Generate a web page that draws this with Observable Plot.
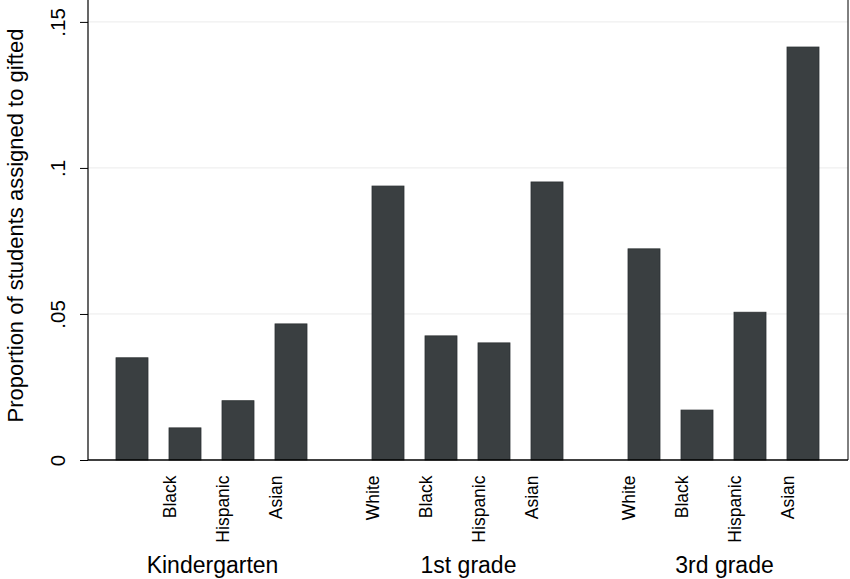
<!DOCTYPE html>
<html>
<head>
<meta charset="utf-8">
<script src="https://cdn.jsdelivr.net/npm/d3@7"></script>
<script src="https://cdn.jsdelivr.net/npm/@observablehq/plot@0.6"></script>
<style>
  html, body { margin: 0; padding: 0; background: #fff; }
  #chart svg { display: block; font-family: "Liberation Sans", Arial, sans-serif; }
</style>
</head>
<body>
<div id="chart"></div>
<script>
const grades = ["Kindergarten", "1st grade", "3rd grade"];
const races = ["White", "Black", "Hispanic", "Asian"];
const kindergarten = [0.035, 0.011, 0.0203, 0.0466];
const grade1 = [0.0938, 0.0425, 0.0401, 0.0952];
const grade3 = [0.0723, 0.0171, 0.0506, 0.1414];
const yTicks = [0, 0.05, 0.1, 0.15];
const yTitle = "Proportion of students assigned to gifted";
const hiddenLabels = ["Kindergarten|White"];

const series = [kindergarten, grade1, grade3];
const data = grades.flatMap((g, gi) => races.map((r, ri) => ({grade: g, race: r, value: series[gi][ri]})));
const labelData = data.filter(d => !hiddenLabels.includes(d.grade + "|" + d.race));

const W = 850, H = 579;
const fmt = d => d === 0 ? "0" : String(d).replace(/^0/, "");
const font = "Liberation Sans, Arial, sans-serif";

const chart = Plot.plot({
  width: W,
  height: H,
  marginTop: 0,
  marginBottom: 119,
  marginLeft: 88,
  marginRight: 2,
  style: {fontFamily: font, background: "#fff", color: "#000"},
  fx: {domain: grades, range: [105.25, 831.25], paddingInner: 0.166, paddingOuter: 0, axis: null, label: null},
  x: {domain: races, paddingInner: 0.393, paddingOuter: 0.1965, axis: null, label: null},
  y: {domain: [0, 0.1575], axis: null, label: null},
  marks: [
    Plot.barY(data, {fx: "grade", x: "race", y: "value", fill: "#3a3f41", stroke: "#2c3032", strokeWidth: 0.8}),
    Plot.text(labelData, {
      fx: "grade", x: "race", text: "race", frameAnchor: "bottom",
      rotate: -90, textAnchor: "end", lineAnchor: "middle",
      dx: -15, dy: 15, fontSize: 17.5, fill: "#000"
    }),
    Plot.text(grades, {
      fx: d => d, text: d => d, frameAnchor: "bottom",
      lineAnchor: "middle", dy: 105.5, fontSize: 23, fill: "#000"
    }),
    Plot.axisY({
      ticks: yTicks, tickFormat: fmt, tickRotate: -90, tickSize: 8,
      tickPadding: 16, fontSize: 20.5, dx: -17, label: null, stroke: "#000", fill: "#000"
    }),
    Plot.text([yTitle], {
      fx: () => grades[0], text: d => d, frameAnchor: "left",
      rotate: -90, textAnchor: "middle", lineAnchor: "bottom",
      dx: -83, dy: -5, fontSize: 22, fill: "#000"
    })
  ]
});

// continuous grid and frame across the whole plotting area (not per facet)
(function decorate() {
  const ys = chart.scale("y");
  const svg = d3.select(chart);
  const x0 = 88, x1 = W - 2, y0 = 0, yb = ys.apply(0);
  const grid = svg.insert("g", "g").attr("stroke", "#ebebeb").attr("stroke-width", 1);
  yTicks.filter(v => v > 0).forEach(v => {
    grid.append("line").attr("x1", x0).attr("x2", x1)
      .attr("y1", ys.apply(v)).attr("y2", ys.apply(v));
  });
  const frame = svg.append("g").attr("stroke", "#000").attr("fill", "none");
  frame.append("line").attr("x1", x0).attr("x2", x0).attr("y1", y0).attr("y2", yb).attr("stroke-width", 1.2);
  frame.append("line").attr("x1", x0).attr("x2", x1).attr("y1", yb).attr("y2", yb).attr("stroke-width", 1.5);
  frame.append("line").attr("x1", x1).attr("x2", x1).attr("y1", y0).attr("y2", yb).attr("stroke-width", 1);
})();

document.getElementById("chart").appendChild(chart);
</script>
</body>
</html>
